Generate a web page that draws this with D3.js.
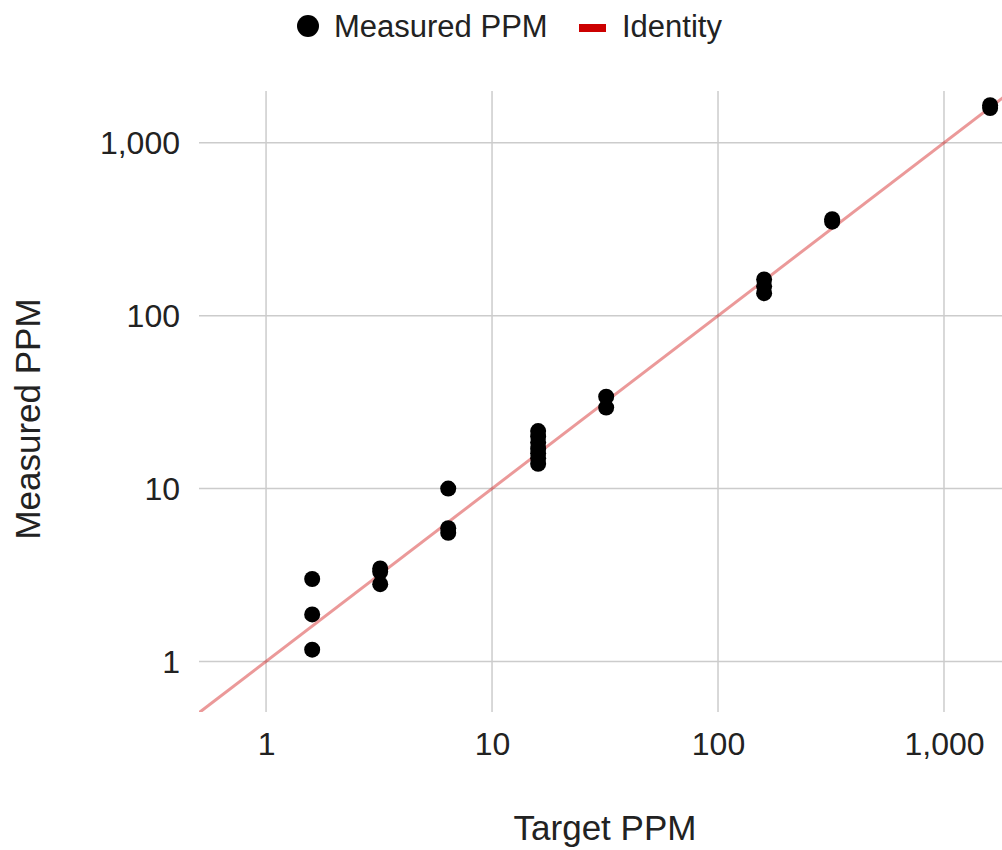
<!DOCTYPE html>
<html>
<head>
<meta charset="utf-8">
<script src="https://cdn.jsdelivr.net/npm/d3@7"></script>
<style>
  html, body { margin: 0; padding: 0; background: #fff; }
  svg { display: block; font-family: Arial, "Liberation Sans", sans-serif; }
</style>
</head>
<body>
<svg id="chart" width="1002" height="850"></svg>
<script>
// ---- data ----
const targetPPM = [1.6, 1.6, 1.6,
                   3.2, 3.2, 3.2,
                   6.4, 6.4, 6.4,
                   16, 16, 16, 16, 16, 16, 16,
                   32, 32,
                   160, 160, 160,
                   320, 320,
                   1600, 1600];
const measuredPPM = [3.0, 1.87, 1.17,
                     3.45, 3.3, 2.8,
                     10.0, 5.9, 5.55,
                     21.5, 20, 18.5, 17, 16, 15, 13.9,
                     34, 29.4,
                     162, 148, 135,
                     350, 362,
                     1590, 1650];
const identityLine = [0.5, 2000];
const xTicks = [1, 10, 100, 1000];
const yTicks = [1, 10, 100, 1000];
const legendLabels = ["Measured PPM", "Identity"];
const xTitle = "Target PPM";
const yTitle = "Measured PPM";

// ---- layout ----
const svg = d3.select("#chart");
const pL = 199, pR = 1002, pT = 91, pB = 712;

const x = d3.scaleLog().domain([0.505, 1806]).range([pL, pR]);
const y = d3.scaleLog().domain([0.51, 1995]).range([pB, pT]);
const fmt = d3.format(",");

// grid
const grid = svg.append("g");
grid.selectAll("line.v").data(xTicks).join("line")
  .attr("x1", d => x(d)).attr("x2", d => x(d))
  .attr("y1", pT).attr("y2", pB)
  .attr("stroke", "#cccccc").attr("stroke-width", 1.5);
grid.selectAll("line.h").data(yTicks).join("line")
  .attr("x1", pL).attr("x2", pR)
  .attr("y1", d => y(d)).attr("y2", d => y(d))
  .attr("stroke", "#cccccc").attr("stroke-width", 1.5);

// axes (tick labels only)
const xAxis = svg.append("g").attr("transform", `translate(0,${pB})`)
  .call(d3.axisBottom(x).tickValues(xTicks).tickFormat(fmt).tickSize(0).tickPadding(0));
xAxis.select(".domain").remove();
xAxis.selectAll("text").attr("font-size", 32).attr("fill", "#222")
  .attr("font-family", "Arial, 'Liberation Sans', sans-serif")
  .attr("dy", null).attr("y", 43);

const yAxis = svg.append("g").attr("transform", `translate(${pL},0)`)
  .call(d3.axisLeft(y).tickValues(yTicks).tickFormat(fmt).tickSize(0).tickPadding(0));
yAxis.select(".domain").remove();
yAxis.selectAll("text").attr("font-size", 32).attr("fill", "#222")
  .attr("font-family", "Arial, 'Liberation Sans', sans-serif")
  .attr("x", -19).attr("dy", "0.34em");

// clip
svg.append("clipPath").attr("id", "clip").append("rect")
  .attr("x", pL).attr("y", pT - 20).attr("width", pR - pL).attr("height", pB - pT + 20);

// identity line
svg.append("line")
  .attr("clip-path", "url(#clip)")
  .attr("x1", x(identityLine[0])).attr("y1", y(identityLine[0]))
  .attr("x2", x(identityLine[1])).attr("y2", y(identityLine[1]))
  .attr("stroke", "#cc0000").attr("stroke-opacity", 0.4).attr("stroke-width", 3);

// points
const pts = targetPPM.map((t, i) => ({ t, m: measuredPPM[i] }));
svg.append("g").selectAll("circle").data(pts).join("circle")
  .attr("cx", d => x(d.t)).attr("cy", d => y(d.m)).attr("r", 8)
  .attr("fill", "#000");

// axis titles
svg.append("text").attr("x", 605).attr("y", 840).attr("text-anchor", "middle")
  .attr("font-size", 35).attr("fill", "#222").text(xTitle);
svg.append("text").attr("transform", "translate(40,419) rotate(-90)")
  .attr("text-anchor", "middle").attr("font-size", 35).attr("fill", "#222").text(yTitle);

// legend
const lg = svg.append("g");
lg.append("circle").attr("cx", 308).attr("cy", 26).attr("r", 11).attr("fill", "#000");
lg.append("text").attr("x", 334).attr("y", 37).attr("font-size", 31).attr("fill", "#222").text(legendLabels[0]);
lg.append("rect").attr("x", 579).attr("y", 24).attr("width", 27).attr("height", 8).attr("fill", "#cc0000");
lg.append("text").attr("x", 622).attr("y", 37).attr("font-size", 31).attr("fill", "#222").text(legendLabels[1]);
</script>
</body>
</html>
